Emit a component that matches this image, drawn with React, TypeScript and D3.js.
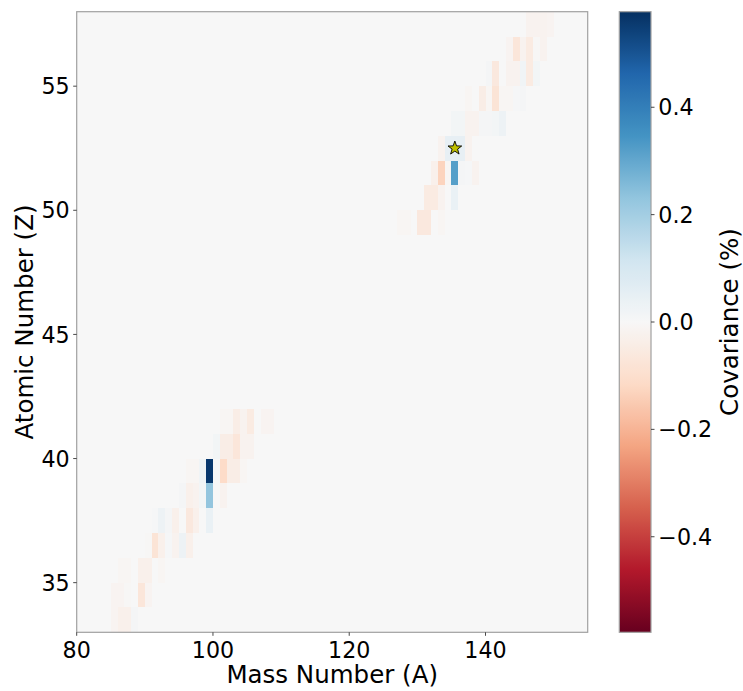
import React from "react";
import * as d3 from "d3";

// ---- data ----
const massTicks = [80, 100, 120, 140];
const chargeTicks = [35, 40, 45, 50, 55];
const cbarTicks = [-0.4, -0.2, 0.0, 0.2, 0.4];

// each cell: lower-left corner (A, Z), spans 1 x 1
const cellMass = [
  // lower cluster
  101, 102, 103, 104, 105, 107, 108,
  100, 101, 102, 103, 104, 105,
  96, 97, 98, 99, 101, 102, 103, 104,
  95, 96, 97, 98, 99, 101,
  91, 92, 93, 94, 96, 97, 99,
  90, 91, 92, 93, 94, 95, 96,
  86, 87, 89, 90, 92,
  85, 86, 87, 89, 90,
  85, 86, 87, 88,
  // upper cluster
  146, 147, 148, 149,
  143, 144, 145, 146, 147, 148,
  140, 141, 142, 143, 144, 145, 146, 147,
  137, 138, 139, 140, 141, 142, 143, 144, 145,
  135, 136, 137, 138, 139, 140, 141, 142,
  133, 134, 135, 136, 137,
  132, 133, 134, 135, 136, 137, 138,
  131, 132, 133, 134, 135,
  127, 128, 130, 131, 133,
];
const cellCharge = [
  41, 41, 41, 41, 41, 41, 41,
  40, 40, 40, 40, 40, 40,
  39, 39, 39, 39, 39, 39, 39, 39,
  38, 38, 38, 38, 38, 38,
  37, 37, 37, 37, 37, 37, 37,
  36, 36, 36, 36, 36, 36, 36,
  35, 35, 35, 35, 35,
  34, 34, 34, 34, 34,
  33, 33, 33, 33,
  57, 57, 57, 57,
  56, 56, 56, 56, 56, 56,
  55, 55, 55, 55, 55, 55, 55, 55,
  54, 54, 54, 54, 54, 54, 54, 54, 54,
  53, 53, 53, 53, 53, 53, 53, 53,
  52, 52, 52, 52, 52,
  51, 51, 51, 51, 51, 51, 51,
  50, 50, 50, 50, 50,
  49, 49, 49, 49, 49,
];
const cellCov = [
  -0.01, -0.01, -0.04, -0.02, -0.05, -0.015, -0.015,
  0.015, -0.04, -0.04, -0.07, -0.02, -0.02,
  -0.01, -0.01, 0.02, 0.56, -0.11, -0.04, -0.04, -0.01,
  0.01, -0.03, -0.02, 0.015, 0.23, -0.02,
  0.005, 0.03, 0.01, -0.03, -0.06, -0.03, 0.04,
  -0.005, -0.08, -0.03, 0.005, -0.02, 0.03, -0.03,
  -0.01, -0.01, -0.03, -0.03, -0.01,
  -0.015, -0.015, -0.005, -0.07, -0.015,
  -0.015, -0.03, -0.03, 0.01,
  -0.02, -0.02, -0.02, -0.015,
  -0.015, -0.07, -0.02, -0.05, -0.005, -0.02,
  0.01, -0.06, 0.0, -0.02, -0.02, 0.02, -0.05, 0.015,
  -0.01, 0.0, -0.04, -0.01, -0.08, -0.01, -0.01, 0.005, 0.01,
  0.015, 0.015, -0.02, -0.02, 0.01, 0.01, 0.015, 0.03,
  -0.02, 0.05, 0.05, 0.05, -0.02,
  -0.03, -0.13, -0.01, 0.32, 0.01, 0.005, -0.02,
  -0.05, -0.05, -0.02, 0.0, 0.04,
  -0.01, -0.01, -0.06, -0.06, -0.01,
];
const targetMass = [135.5];
const targetCharge = [52.5];

const VMAX = 0.578;
const rdbuColors = [
  "#67001f", "#b2182b", "#d6604d", "#f4a582", "#fddbc7", "#f7f7f7",
  "#d1e5f0", "#92c5de", "#4393c3", "#2166ac", "#053061",
];

// ---- layout ----
const W = 743, H = 691;
const plotL = 76.7, plotR = 587.7, plotT = 11.7, plotB = 632.3;
const cbL = 619.3, cbR = 651;
const FONT = "DejaVu Sans, sans-serif";

function starPath(cx: number, cy: number, R: number, r: number) {
  const pts: string[] = [];
  for (let i = 0; i < 10; i++) {
    const ang = -Math.PI / 2 + (i * Math.PI) / 5;
    const rad = i % 2 === 0 ? R : r;
    pts.push(`${(cx + rad * Math.cos(ang)).toFixed(2)},${(cy + rad * Math.sin(ang)).toFixed(2)}`);
  }
  return "M" + pts.join("L") + "Z";
}

export default function App() {
  const x = d3.scaleLinear().domain([80, 155]).range([plotL, plotR]);
  const y = d3.scaleLinear().domain([33, 58]).range([plotB, plotT]);
  const color = d3
    .scaleLinear<string>()
    .domain(d3.range(11).map((i) => -VMAX + (i * 2 * VMAX) / 10))
    .range(rdbuColors)
    .interpolate(d3.interpolateRgb)
    .clamp(true);
  const cy = d3.scaleLinear().domain([-VMAX, VMAX]).range([plotB, plotT]);

  const gradStops = d3.range(0, 101).map((i) => i / 100);

  return (
    <svg
      width={W}
      height={H}
      style={{ position: "absolute", left: 0, top: 0, background: "#fff" }}
      fontFamily={FONT}
    >
      <defs>
        <linearGradient id="cbgrad" x1="0" y1="1" x2="0" y2="0">
          {gradStops.map((t) => (
            <stop key={t} offset={t} stopColor={color(-VMAX + t * 2 * VMAX)} />
          ))}
        </linearGradient>
      </defs>

      {/* background (zero-valued cells) */}
      <rect x={plotL} y={plotT} width={plotR - plotL} height={plotB - plotT} fill={color(0)} />

      {/* cells */}
      {cellMass.map((a, i) => (
        <rect
          key={i}
          x={x(a)}
          y={y(cellCharge[i] + 1)}
          width={x(a + 1) - x(a)}
          height={y(cellCharge[i]) - y(cellCharge[i] + 1)}
          fill={color(cellCov[i])}
          shapeRendering="crispEdges"
        />
      ))}

      {/* target star */}
      {targetMass.map((a, i) => (
        <path
          key={i}
          d={starPath(x(a), y(targetCharge[i]), 7.2, 2.9)}
          fill="#bfbf00"
          stroke="#000"
          strokeWidth={0.9}
          strokeLinejoin="miter"
        />
      ))}

      {/* frame */}
      <rect
        x={plotL}
        y={plotT}
        width={plotR - plotL}
        height={plotB - plotT}
        fill="none"
        stroke="#a0a0a0"
        strokeWidth={1.2}
      />

      {/* x ticks */}
      {massTicks.map((t) => (
        <g key={t}>
          <line x1={x(t)} x2={x(t)} y1={plotB} y2={plotB + 3.5} stroke="#333" strokeWidth={0.9} />
          <text x={x(t)} y={657.7} textAnchor="middle" fontSize={22.2} fill="#000">
            {t}
          </text>
        </g>
      ))}
      {/* y ticks */}
      {chargeTicks.map((t) => (
        <g key={t}>
          <line x1={plotL - 3.5} x2={plotL} y1={y(t)} y2={y(t)} stroke="#333" strokeWidth={0.9} />
          <text x={plotL - 7} y={y(t) + 8.1} textAnchor="end" fontSize={22.2} fill="#000">
            {t}
          </text>
        </g>
      ))}

      {/* axis labels */}
      <text x={(plotL + plotR) / 2} y={683.3} textAnchor="middle" fontSize={24.5} fill="#000">
        Mass Number (A)
      </text>
      <text
        transform={`translate(33,${(plotT + plotB) / 2}) rotate(-90)`}
        textAnchor="middle"
        fontSize={24.5}
        fill="#000"
      >
        Atomic Number (Z)
      </text>

      {/* colorbar */}
      <rect x={cbL} y={plotT} width={cbR - cbL} height={plotB - plotT} fill="url(#cbgrad)" />
      <rect
        x={cbL}
        y={plotT}
        width={cbR - cbL}
        height={plotB - plotT}
        fill="none"
        stroke="#a0a0a0"
        strokeWidth={1.2}
      />
      {cbarTicks.map((t) => (
        <g key={t}>
          <line x1={cbR} x2={cbR + 3.5} y1={cy(t)} y2={cy(t)} stroke="#333" strokeWidth={0.9} />
          <text x={cbR + 7.3} y={cy(t) + 8.1} textAnchor="start" fontSize={22.2} fill="#000">
            {t < 0 ? "\u2212" + Math.abs(t).toFixed(1) : t.toFixed(1)}
          </text>
        </g>
      ))}
      <text
        transform={`translate(738,${(plotT + plotB) / 2}) rotate(-90)`}
        textAnchor="middle"
        fontSize={24.5}
        fill="#000"
      >
        Covariance (%)
      </text>
    </svg>
  );
}
